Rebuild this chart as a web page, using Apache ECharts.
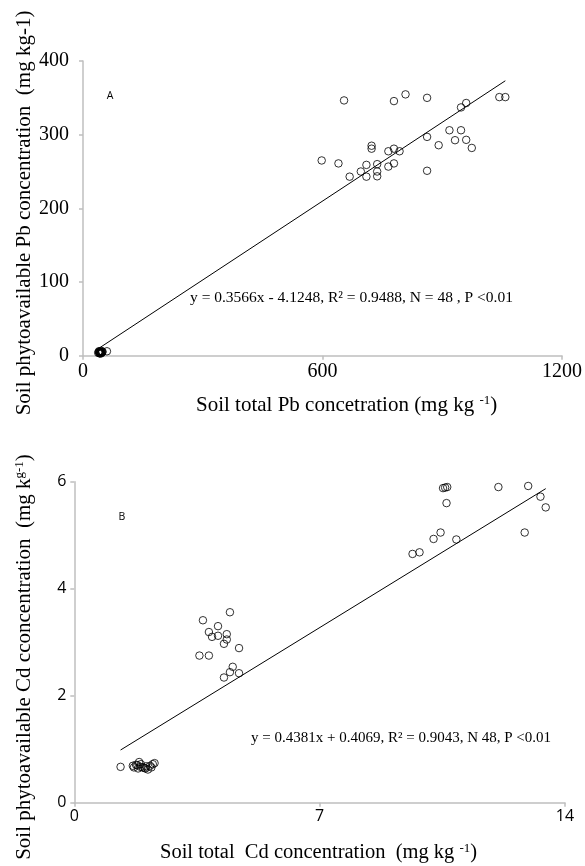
<!DOCTYPE html>
<html><head><meta charset="utf-8">
<script src="https://cdn.jsdelivr.net/npm/echarts@6/dist/echarts.min.js"></script>
<style>html,body{margin:0;padding:0;background:#fff}#c{width:585px;height:866px}</style>
</head><body><div id="c"></div>
<script>
// ---- Panel A: Pb ----
const pbTotal = [654,779,808,862,947,960,1043,1058,598,640,668,696,710,710,723,723,737,737,737,765,779,793,765,779,862,862,891,918,947,932,960,974,
  38,40,41,42,43,44,45,46,47,48,40,44,49,42,46,60];
const pbAvail = [346.5,345.6,354.7,350,337,343,351,351,265,261,243,250,259,243,285,281,260,250,243.5,277.5,281,277.5,256.7,261,297,251,285.7,306,306,292.5,293,282,
  4,5,3.5,6,4.5,5.5,3,6.5,4,5,6,4,5.5,3,5,6];
const pbTrendX = [42, 1058];
const pbSlope = 0.3566, pbIntercept = -4.1248;
const pbXTicks = [0, 600, 1200];
const pbYTicks = [0, 100, 200, 300, 400];

// ---- Panel B: Cd ----
const cdTotal = [4.44,3.67,4.10,3.84,3.93,4.10,4.35,4.35,4.27,4.70,3.57,3.84,4.52,4.44,4.70,4.27,
  1.32,1.67,1.76,1.85,1.80,1.89,1.95,2.03,2.00,2.16,2.24,2.29,1.70,1.90,2.05,2.20,1.82,2.10,
  10.52,10.64,10.62,10.45,10.25,9.65,9.85,10.9,12.1,12.95,13.3,13.45,12.85,10.58];
const cdAvail = [3.56,3.41,3.30,3.19,3.10,3.12,3.15,3.05,2.97,2.89,2.75,2.75,2.54,2.44,2.42,2.34,
  0.67,0.69,0.71,0.76,0.70,0.67,0.66,0.64,0.65,0.69,0.72,0.74,0.66,0.72,0.68,0.66,0.64,0.62,
  5.88,5.9,5.6,5.05,4.93,4.65,4.68,4.92,5.9,5.92,5.72,5.52,5.05,5.89];
const cdTrendX = [1.32, 13.45];
const cdTrendY = [0.985, 5.87];
const cdXTicks = [0, 7, 14];
const cdYTicks = [0, 2, 4, 6];

const serif = '"Liberation Serif","Times New Roman",serif';
const sans = '"Open Sans","Noto Sans",sans-serif';

const pbPts = pbTotal.map((x,i)=>[x,pbAvail[i]]);
const cdPts = cdTotal.map((x,i)=>[x,cdAvail[i]]);
const pbLine = pbTrendX.map(x=>[x, pbSlope*x + pbIntercept]);
const cdLine = cdTrendX.map((x,i)=>[x, cdTrendY[i]]);

const axisLine = {show:true, lineStyle:{color:'#bfbfbf', width:1.5}};
const axisTick = {show:true, length:4, lineStyle:{color:'#bfbfbf', width:1.5}};

function ax(grid, ticks, font, size, margin){
  return {type:'value', gridIndex:grid, min:ticks[0], max:ticks[ticks.length-1], interval:ticks[1]-ticks[0],
    axisLine, axisTick, splitLine:{show:false},
    axisLabel:{color:'#000', fontFamily:font, fontSize:size, margin:margin, formatter:v=>String(v)}};
}

const supRich = {sup:{fontSize:13, fontFamily:serif, verticalAlign:'top', lineHeight:13, fill:'#000'}};

const chart = echarts.init(document.getElementById('c'), null, {renderer:'canvas'});
chart.setOption({
  animation:false,
  backgroundColor:'#fff',
  grid:[
    {left:83, top:61, width:480, height:294.7},
    {left:74.3, top:481.7, width:490.7, height:321}
  ],
  xAxis:[ax(0,pbXTicks,serif,20,6), ax(1,cdXTicks,sans,16,6)],
  yAxis:[ax(0,pbYTicks,serif,20,14), ax(1,cdYTicks,sans,16,8)],
  series:[
    {type:'line', xAxisIndex:0, yAxisIndex:0, data:pbLine, symbol:'none', lineStyle:{color:'#000', width:1}, z:1},
    {type:'scatter', xAxisIndex:0, yAxisIndex:0, data:pbPts, symbol:'circle', symbolSize:7.5,
      itemStyle:{color:'rgba(255,255,255,0)', borderColor:'#000', borderWidth:1}, z:2},
    {type:'line', xAxisIndex:1, yAxisIndex:1, data:cdLine, symbol:'none', lineStyle:{color:'#000', width:1}, z:1},
    {type:'scatter', xAxisIndex:1, yAxisIndex:1, data:cdPts, symbol:'circle', symbolSize:7.5,
      itemStyle:{color:'rgba(255,255,255,0)', borderColor:'#000', borderWidth:1}, z:2}
  ],
  graphic:[
    {type:'text', x:110, y:96, style:{text:'A', fontFamily:sans, fontSize:10.5, fill:'#000', align:'center', verticalAlign:'middle'}},
    {type:'text', x:122, y:517, style:{text:'B', fontFamily:sans, fontSize:10.5, fill:'#000', align:'center', verticalAlign:'middle'}},
    {type:'text', x:190, y:298, style:{text:'y = 0.3566x - 4.1248, R² = 0.9488, N = 48 , P <0.01', fontFamily:serif, fontSize:15.5, fill:'#000', align:'left', verticalAlign:'middle'}},
    {type:'text', x:251, y:738, style:{text:'y = 0.4381x + 0.4069, R² = 0.9043, N 48, P <0.01', fontFamily:serif, fontSize:15, fill:'#000', align:'left', verticalAlign:'middle'}},
    {type:'text', x:196, y:405, style:{text:'Soil total Pb concetration (mg kg {sup|-1})', rich:supRich, fontFamily:serif, fontSize:21, fill:'#000', align:'left', verticalAlign:'middle'}},
    {type:'text', x:160, y:853, style:{text:'Soil total  Cd concentration  (mg kg {sup|-1})', rich:supRich, fontFamily:serif, fontSize:20.5, fill:'#000', align:'left', verticalAlign:'middle'}},
    {type:'text', x:24, y:213, rotation:Math.PI/2, style:{text:'Soil phytoavailable Pb concentration  (mg kg-1)', fontFamily:serif, fontSize:21, fill:'#000', align:'center', verticalAlign:'middle'}},
    {type:'text', x:24, y:657, rotation:Math.PI/2, style:{text:'Soil phytoavailable Cd cconcentration  (mg k{sup|g-1})', rich:supRich, fontFamily:serif, fontSize:21, fill:'#000', align:'center', verticalAlign:'middle'}}
  ]
});
</script></body></html>
